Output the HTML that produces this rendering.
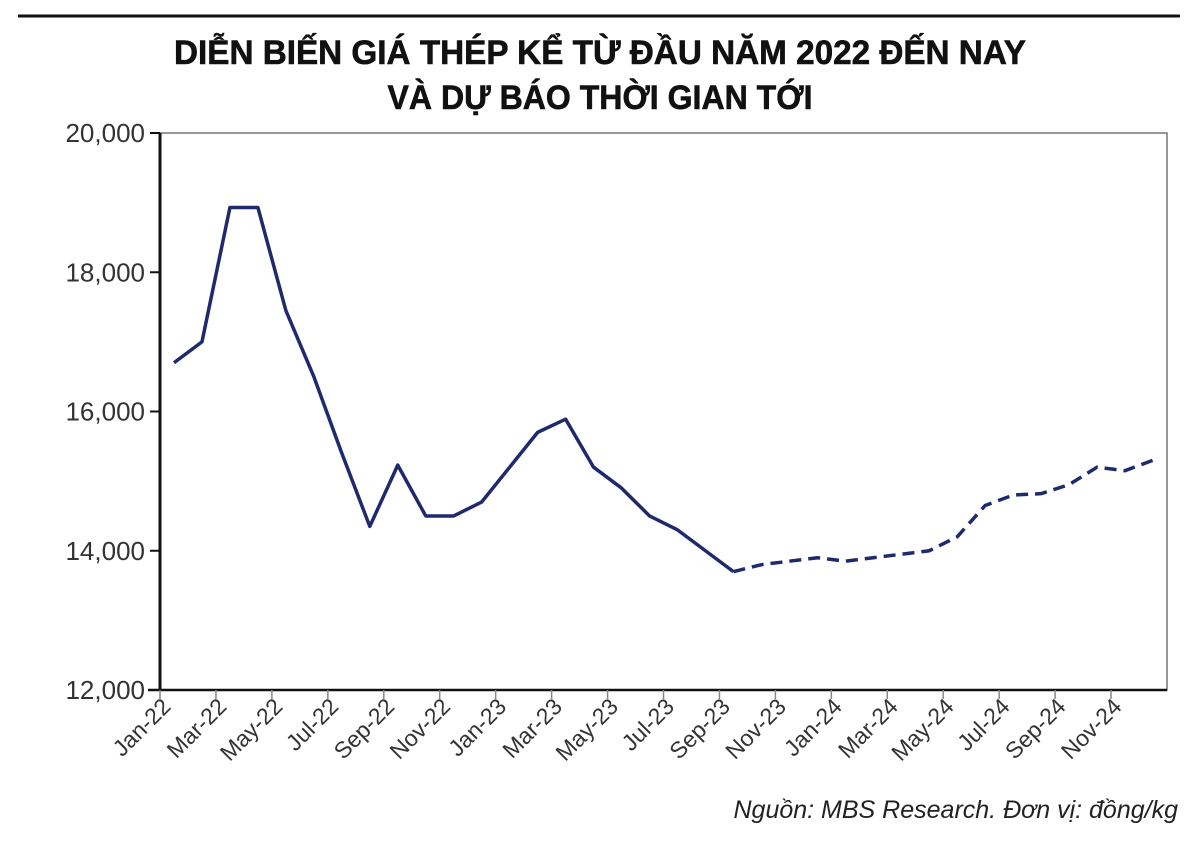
<!DOCTYPE html>
<html><head><meta charset="utf-8"><style>
body{margin:0;background:#fff;width:1200px;height:846px;overflow:hidden}
svg{display:block}
</style></head><body>
<svg id="chart" width="1200" height="846" xmlns="http://www.w3.org/2000/svg" font-family="Liberation Sans, sans-serif">
<line x1="18" y1="16" x2="1180" y2="16" stroke="#111" stroke-width="3"/>
<text x="600" y="64" text-anchor="middle" font-weight="bold" font-size="34" textLength="852" lengthAdjust="spacingAndGlyphs" fill="#111" stroke="#111" stroke-width="0.6">DIỄN BIẾN GIÁ THÉP KỂ TỪ ĐẦU NĂM 2022 ĐẾN NAY</text>
<text x="600" y="109" text-anchor="middle" font-weight="bold" font-size="34" textLength="425" lengthAdjust="spacingAndGlyphs" fill="#111" stroke="#111" stroke-width="0.6">VÀ DỰ BÁO THỜI GIAN TỚI</text>
<rect x="160" y="133" width="1007" height="557" fill="none" stroke="#777" stroke-width="1.5"/>
<g id="axes"></g>
<g id="marks"></g>
<text x="1178" y="818" text-anchor="end" font-style="italic" font-size="25" fill="#222">Nguồn: MBS Research. Đơn vị: đồng/kg</text>
</svg>
<script>
const months=["Jan","Feb","Mar","Apr","May","Jun","Jul","Aug","Sep","Oct","Nov","Dec"];
const years=["22","23","24"];
const actualValues=[16700,17000,18930,18930,17450,16500,15400,14350,15230,14500,14500,14700,15200,15700,15890,15200,14900,14500,14300,14000,13700];
const forecastValues=[13700,13800,13850,13900,13850,13900,13950,14000,14200,14650,14800,14820,14950,15200,15150,15300];
const yTicks=[12000,14000,16000,18000,20000];
const yTickLabels=["12,000","14,000","16,000","18,000","20,000"];
const categories=[];years.forEach(y=>months.forEach(m=>categories.push(m+"-"+y)));
const X0=160,X1=1167,Y0=690,Y1=133,yMin=12000,yMax=20000;
const step=(X1-X0)/categories.length;
const xC=i=>X0+step*i+step/2;
const xT=i=>X0+step*i;
const yS=v=>Y0-(v-yMin)/(yMax-yMin)*(Y0-Y1);
const NS="http://www.w3.org/2000/svg";
const axes=document.getElementById('axes'),marks=document.getElementById('marks');
function mk(tag,attrs,parent){const e=document.createElementNS(NS,tag);for(const k in attrs)e.setAttribute(k,attrs[k]);parent.appendChild(e);return e;}
let a=mk('line',{x1:X0,y1:Y1,x2:X0,y2:Y0+1,stroke:'#111','stroke-width':3},axes);


a=mk('line',{x1:X0-12,y1:Y0,x2:X1,y2:Y0,stroke:'#111','stroke-width':2.5},axes);


yTicks.forEach((v,i)=>{
  const t=mk('line',{x1:X0-10,y1:yS(v),x2:X0,y2:yS(v),stroke:'#111','stroke-width':2},axes);
  
  
  const l=mk('text',{x:145,y:yS(v)+9,'text-anchor':'end','font-size':26,fill:'#333'},axes);
  l.textContent=yTickLabels[i];
  
  
});
categories.forEach((c,i)=>{
  if(i%2)return;
  const t=mk('line',{x1:xT(i),y1:Y0,x2:xT(i),y2:Y0+9,stroke:'#888','stroke-width':1.5},axes);
  
  
  const l=mk('text',{x:xT(i)+12,y:Y0+18,'text-anchor':'end','font-size':23,fill:'#333',transform:`rotate(-45 ${xT(i)+12} ${Y0+18})`},axes);
  l.textContent=c;
  
  
});
const pa=actualValues.map((v,i)=>xC(i)+','+yS(v)).join(' ');
let p=mk('polyline',{points:pa,fill:'none',stroke:'#1f2a6e','stroke-width':3.5,'stroke-linejoin':'round'},marks);


const off=actualValues.length-1;
const pf=forecastValues.map((v,i)=>xC(i+off)+','+yS(v)).join(' ');
p=mk('polyline',{points:pf,fill:'none',stroke:'#1f2a6e','stroke-width':3.5,'stroke-dasharray':'12 7'},marks);


</script>
</body></html>
